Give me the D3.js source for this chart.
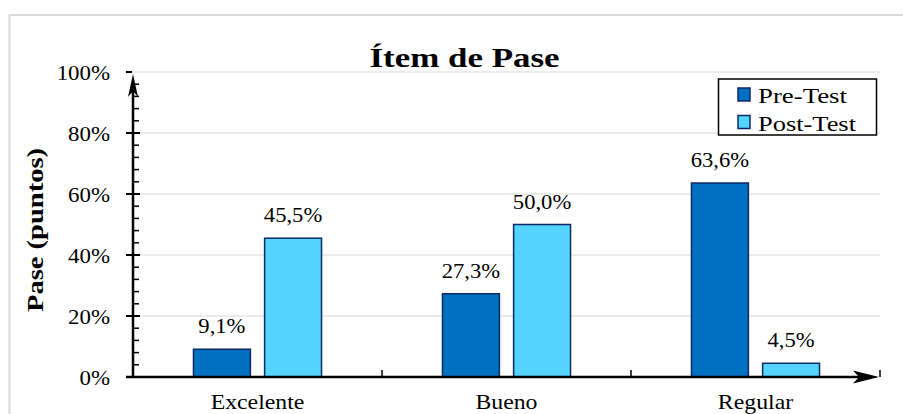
<!DOCTYPE html>
<html>
<head>
<meta charset="utf-8">
<script src="https://cdn.jsdelivr.net/npm/d3@7"></script>
<style>
  html, body { margin: 0; padding: 0; background: #fff; }
  svg { display: block; }
</style>
</head>
<body>
<svg id="chart" width="903" height="414" font-family="Liberation Serif"></svg>
<script>
const categories = ["Excelente", "Bueno", "Regular"];
const seriesNames = ["Pre-Test", "Post-Test"];
const preTest = [9.1, 27.3, 63.6];
const postTest = [45.5, 50.0, 4.5];
const yTicks = [0, 20, 40, 60, 80, 100];
const title = "Ítem de Pase";
const yTitle = "Pase (puntos)";

const FONT = "Liberation Serif";
const colors = { "Pre-Test": "#0070C0", "Post-Test": "#55D4FF" };
const barStroke = "#0B2A66";

function widen(sel, k) {
  sel.each(function () {
    const w = this.getComputedTextLength();
    d3.select(this).attr("textLength", w * k).attr("lengthAdjust", "spacingAndGlyphs");
  });
}

const svg = d3.select("#chart");
svg.append("rect").attr("width", 903).attr("height", 414).attr("fill", "#fff");
svg.append("rect").attr("x", 9.5).attr("y", 15).attr("width", 1000).attr("height", 600)
  .attr("fill", "none").attr("stroke", "#d9d9d9").attr("stroke-width", 2);

const x0 = d3.scaleBand().domain(categories).range([133, 880]).paddingInner(0).paddingOuter(0);
const x1 = d3.scaleBand().domain(seriesNames).range([0, x0.bandwidth()]).paddingInner(0.2).paddingOuter(0.85);
const y = d3.scaleLinear().domain([0, 100]).range([377, 72]);

const data = categories.map((c, i) => ({ cat: c, values: [
  { s: "Pre-Test", v: preTest[i] }, { s: "Post-Test", v: postTest[i] } ] }));

svg.append("g").selectAll("line").data(yTicks.filter(d => d > 0)).join("line")
  .attr("x1", 133).attr("x2", 880)
  .attr("y1", d => y(d)).attr("y2", d => y(d))
  .attr("stroke", "#ebebeb").attr("stroke-width", 2);

const groups = svg.append("g").selectAll("g").data(data).join("g")
  .attr("transform", d => `translate(${x0(d.cat)},0)`);
groups.selectAll("rect").data(d => d.values).join("rect")
  .attr("x", d => x1(d.s)).attr("width", x1.bandwidth())
  .attr("y", d => y(d.v)).attr("height", d => y(0) - y(d.v))
  .attr("fill", d => colors[d.s]).attr("stroke", barStroke).attr("stroke-width", 1.5);
const dl = groups.selectAll("text").data(d => d.values).join("text")
  .attr("x", d => x1(d.s) + x1.bandwidth() / 2)
  .attr("y", d => y(d.v) - 16)
  .attr("text-anchor", "middle").attr("font-family", FONT).attr("font-size", 20).attr("fill", "#000")
  .text(d => d.v.toFixed(1).replace(".", ",") + "%");
widen(dl, 1.13);

const yAxis = d3.axisLeft(y).tickValues(yTicks).tickSize(0).tickPadding(23).tickFormat(d => d + "%");
const gy = svg.append("g").attr("transform", "translate(133,0)").call(yAxis)
  .attr("font-family", FONT).attr("font-size", 22);
gy.select(".domain").remove();
gy.selectAll("text").attr("font-family", FONT).attr("font-size", 22).attr("fill", "#000");
widen(gy.selectAll("text"), 1.04);

const minor = d3.range(0, 100, 4).filter(d => d % 20 !== 0);
svg.append("g").selectAll("line").data(minor).join("line")
  .attr("x1", 133).attr("x2", 139).attr("y1", d => y(d)).attr("y2", d => y(d))
  .attr("stroke", "#000").attr("stroke-width", 1.5);
svg.append("g").selectAll("line").data(yTicks).join("line")
  .attr("x1", 126).attr("x2", d => d === 100 ? 132 : 140)
  .attr("y1", d => y(d)).attr("y2", d => y(d))
  .attr("stroke", "#000").attr("stroke-width", 2);

svg.append("line").attr("x1", 133).attr("x2", 133).attr("y1", y(0)).attr("y2", y(100) + 12)
  .attr("stroke", "#000").attr("stroke-width", 2.5);
svg.append("path")
  .attr("d", `M133,${y(100) + 2} L138,${y(100) + 25} L133,${y(100) + 19} L128,${y(100) + 25} Z`)
  .attr("fill", "#000");

svg.append("line").attr("x1", 126).attr("x2", 866).attr("y1", y(0)).attr("y2", y(0))
  .attr("stroke", "#000").attr("stroke-width", 2.5);
svg.append("path")
  .attr("d", `M879,${y(0)} L853,${y(0) - 6.5} L859,${y(0)} L853,${y(0) + 6.5} Z`)
  .attr("fill", "#000");
const sepX = categories.slice(1).map(c => x0(c)).concat([x0.range()[1]]);
svg.append("g").selectAll("line").data(sepX).join("line")
  .attr("x1", d => d).attr("x2", d => d).attr("y1", y(0)).attr("y2", y(0) - 7)
  .attr("stroke", "#000").attr("stroke-width", 1.5);

const cl = svg.append("g").selectAll("text").data(categories).join("text")
  .attr("x", d => x0(d) + x0.bandwidth() / 2).attr("y", 409)
  .attr("text-anchor", "middle").attr("font-family", FONT).attr("font-size", 22).attr("fill", "#000")
  .text(d => d);
widen(cl, 1.08);

svg.append("text").attr("x", 464.5).attr("y", 67).attr("text-anchor", "middle")
  .attr("font-family", FONT).attr("font-size", 28).attr("font-weight", "bold").attr("fill", "#000")
  .attr("textLength", 190).attr("lengthAdjust", "spacingAndGlyphs").text(title);

svg.append("text").attr("transform", "translate(43,230) rotate(-90)")
  .attr("text-anchor", "middle").attr("font-family", FONT).attr("font-size", 24).attr("font-weight", "bold")
  .attr("fill", "#000")
  .attr("textLength", 164).attr("lengthAdjust", "spacingAndGlyphs").text(yTitle);

const lg = svg.append("g");
lg.append("rect").attr("x", 718.5).attr("y", 79).attr("width", 158).attr("height", 56)
  .attr("fill", "#fff").attr("stroke", "#000").attr("stroke-width", 1.5);
const legW = { "Pre-Test": 89, "Post-Test": 98 };
const items = lg.selectAll("g").data(seriesNames).join("g")
  .attr("transform", (d, i) => `translate(0,${i * 27.5})`);
items.append("rect").attr("x", 738).attr("y", 88).attr("width", 12).attr("height", 13)
  .attr("fill", d => colors[d]).attr("stroke", barStroke).attr("stroke-width", 1.5);
items.append("text").attr("x", 758).attr("y", 103).attr("font-family", FONT).attr("font-size", 22)
  .attr("fill", "#000")
  .attr("textLength", d => legW[d]).attr("lengthAdjust", "spacingAndGlyphs").text(d => d);
</script>
</body>
</html>
